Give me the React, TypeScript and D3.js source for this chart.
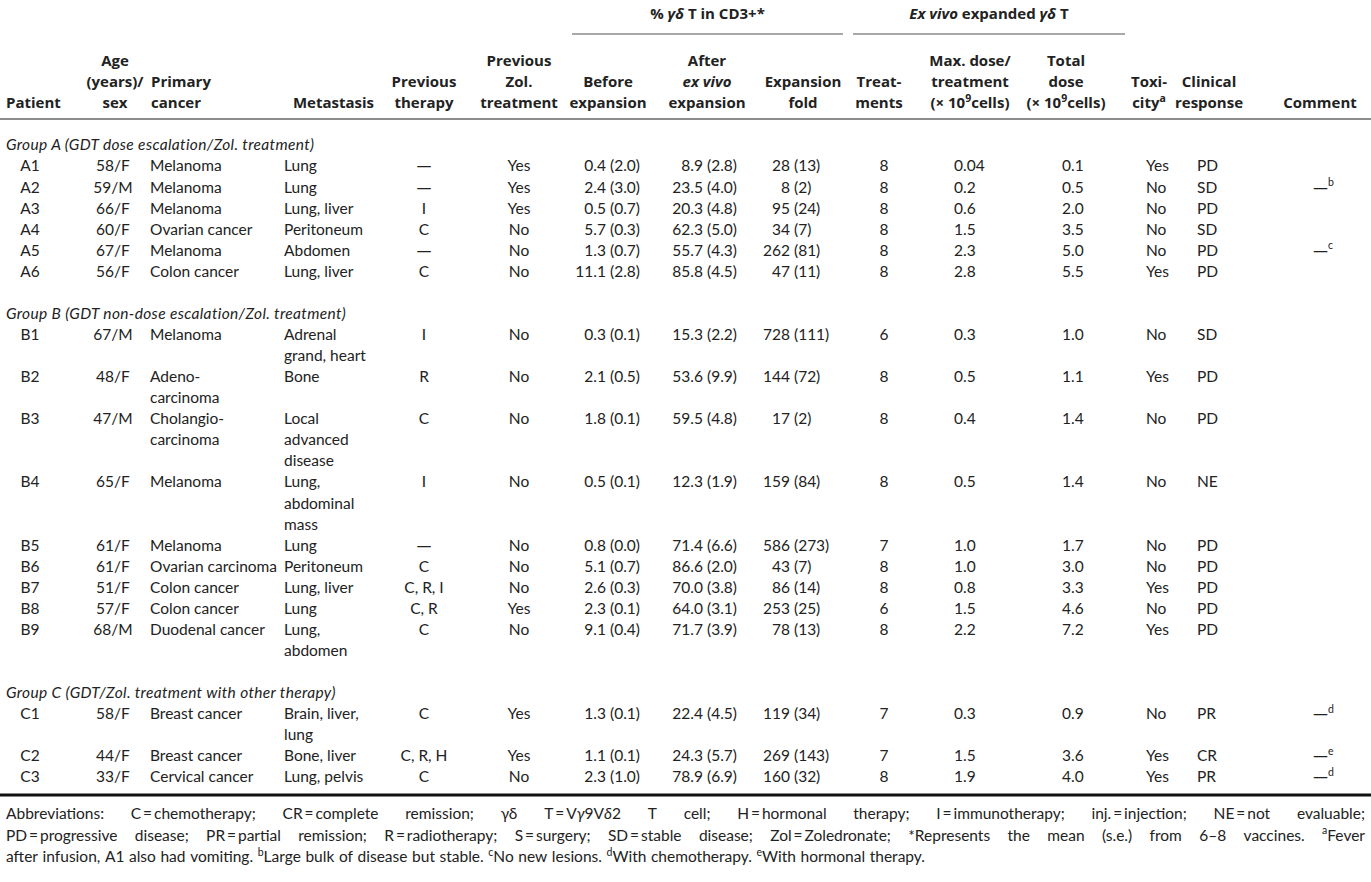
import { useEffect, useRef } from 'react'
import * as d3 from 'd3'

const W = 1371, H = 882
const FONT = 'Lato, "Noto Sans", sans-serif'
const HEAD_FONT = '"Open Sans", Lato, sans-serif'
const DASH_FONT = '"DejaVu Sans", sans-serif'
const INK = '#222'
const BL = 5.4 // offset from line centre to baseline

// ---- data ----
const groupLabels = [
  'Group A (GDT dose escalation/Zol. treatment)',
  'Group B (GDT non-dose escalation/Zol. treatment)',
  'Group C (GDT/Zol. treatment with other therapy)',
]
const groupSizes = [6, 9, 3]

const patients = ['A1', 'A2', 'A3', 'A4', 'A5', 'A6', 'B1', 'B2', 'B3', 'B4', 'B5', 'B6', 'B7', 'B8', 'B9', 'C1', 'C2', 'C3']
const ageSex = ['58/F', '59/M', '66/F', '60/F', '67/F', '56/F', '67/M', '48/F', '47/M', '65/F', '61/F', '61/F', '51/F', '57/F', '68/M', '58/F', '44/F', '33/F']
const primaryCancer = ['Melanoma', 'Melanoma', 'Melanoma', 'Ovarian cancer', 'Melanoma', 'Colon cancer', 'Melanoma', 'Adeno-\ncarcinoma', 'Cholangio-\ncarcinoma', 'Melanoma', 'Melanoma', 'Ovarian carcinoma', 'Colon cancer', 'Colon cancer', 'Duodenal cancer', 'Breast cancer', 'Breast cancer', 'Cervical cancer']
const metastasis = ['Lung', 'Lung', 'Lung, liver', 'Peritoneum', 'Abdomen', 'Lung, liver', 'Adrenal\ngrand, heart', 'Bone', 'Local\nadvanced\ndisease', 'Lung,\nabdominal\nmass', 'Lung', 'Peritoneum', 'Lung, liver', 'Lung', 'Lung,\nabdomen', 'Brain, liver,\nlung', 'Bone, liver', 'Lung, pelvis']
const prevTherapy = ['—', '—', 'I', 'C', '—', 'C', 'I', 'R', 'C', 'I', '—', 'C', 'C, R, I', 'C, R', 'C', 'C', 'C, R, H', 'C']
const prevZol = ['Yes', 'Yes', 'Yes', 'No', 'No', 'No', 'No', 'No', 'No', 'No', 'No', 'No', 'No', 'Yes', 'No', 'Yes', 'Yes', 'No']
const beforeMean = [0.4, 2.4, 0.5, 5.7, 1.3, 11.1, 0.3, 2.1, 1.8, 0.5, 0.8, 5.1, 2.6, 2.3, 9.1, 1.3, 1.1, 2.3]
const beforeSe = [2.0, 3.0, 0.7, 0.3, 0.7, 2.8, 0.1, 0.5, 0.1, 0.1, 0.0, 0.7, 0.3, 0.1, 0.4, 0.1, 0.1, 1.0]
const afterMean = [8.9, 23.5, 20.3, 62.3, 55.7, 85.8, 15.3, 53.6, 59.5, 12.3, 71.4, 86.6, 70.0, 64.0, 71.7, 22.4, 24.3, 78.9]
const afterSe = [2.8, 4.0, 4.8, 5.0, 4.3, 4.5, 2.2, 9.9, 4.8, 1.9, 6.6, 2.0, 3.8, 3.1, 3.9, 4.5, 5.7, 6.9]
const foldMean = [28, 8, 95, 34, 262, 47, 728, 144, 17, 159, 586, 43, 86, 253, 78, 119, 269, 160]
const foldSe = [13, 2, 24, 7, 81, 11, 111, 72, 2, 84, 273, 7, 14, 25, 13, 34, 143, 32]
const treatments = [8, 8, 8, 8, 8, 8, 6, 8, 8, 8, 7, 8, 8, 6, 8, 7, 7, 8]
const maxDose = ['0.04', '0.2', '0.6', '1.5', '2.3', '2.8', '0.3', '0.5', '0.4', '0.5', '1.0', '1.0', '0.8', '1.5', '2.2', '0.3', '1.5', '1.9']
const totalDose = ['0.1', '0.5', '2.0', '3.5', '5.0', '5.5', '1.0', '1.1', '1.4', '1.4', '1.7', '3.0', '3.3', '4.6', '7.2', '0.9', '3.6', '4.0']
const toxicity = ['Yes', 'No', 'No', 'No', 'No', 'Yes', 'No', 'Yes', 'No', 'No', 'No', 'No', 'Yes', 'No', 'Yes', 'No', 'Yes', 'Yes']
const response = ['PD', 'SD', 'PD', 'SD', 'PD', 'PD', 'SD', 'PD', 'PD', 'NE', 'PD', 'PD', 'PD', 'PD', 'PD', 'PR', 'CR', 'PR']
const comment = ['', 'b', '', '', 'c', '', '', '', '', '', '', '', '', '', '', 'd', 'e', 'd']

type Part = { t: string; i?: boolean; b?: boolean; sup?: boolean; dash?: boolean }

const footLines: Part[][] = [
  [
    { t: 'Abbreviations: C\u2009=\u2009chemotherapy; CR\u2009=\u2009complete remission; ' },
    { t: 'γδ' },
    { t: ' T\u2009=\u2009V' }, { t: 'γ', i: true }, { t: '9V' }, { t: 'δ', i: true },
    { t: '2 T cell; H\u2009=\u2009hormonal therapy; I\u2009=\u2009immunotherapy; inj.\u2009=\u2009injection; NE\u2009=\u2009not evaluable;' },
  ],
  [
    { t: 'PD\u2009=\u2009progressive disease; PR\u2009=\u2009partial remission; R\u2009=\u2009radiotherapy; S\u2009=\u2009surgery; SD\u2009=\u2009stable disease; Zol\u2009=\u2009Zoledronate; *Represents the mean (s.e.) from 6–8 vaccines. ' },
    { t: 'a', sup: true }, { t: 'Fever' },
  ],
  [
    { t: 'after infusion, A1 also had vomiting. ' }, { t: 'b', sup: true },
    { t: 'Large bulk of disease but stable. ' }, { t: 'c', sup: true },
    { t: 'No new lesions. ' }, { t: 'd', sup: true },
    { t: 'With chemotherapy. ' }, { t: 'e', sup: true },
    { t: 'With hormonal therapy.' },
  ],
]

const x10 = (): Part[] => [{ t: '(\u00d7 10' }, { t: '9', sup: true }, { t: 'cells)' }]

// header cells: [line0, line1, line2] from the top
const headers: { x: number; anchor: string; lines: (Part[] | null)[] }[] = [
  { x: 6, anchor: 'start', lines: [null, null, [{ t: 'Patient' }]] },
  { x: 115, anchor: 'middle', lines: [[{ t: 'Age' }], [{ t: '(years)/' }], [{ t: 'sex' }]] },
  { x: 151, anchor: 'start', lines: [null, [{ t: 'Primary' }], [{ t: 'cancer' }]] },
  { x: 374, anchor: 'end', lines: [null, null, [{ t: 'Metastasis' }]] },
  { x: 424, anchor: 'middle', lines: [null, [{ t: 'Previous' }], [{ t: 'therapy' }]] },
  { x: 519, anchor: 'middle', lines: [[{ t: 'Previous' }], [{ t: 'Zol.' }], [{ t: 'treatment' }]] },
  { x: 608, anchor: 'middle', lines: [null, [{ t: 'Before' }], [{ t: 'expansion' }]] },
  { x: 707, anchor: 'middle', lines: [[{ t: 'After' }], [{ t: 'ex vivo', i: true }], [{ t: 'expansion' }]] },
  { x: 803, anchor: 'middle', lines: [null, [{ t: 'Expansion' }], [{ t: 'fold' }]] },
  { x: 879, anchor: 'middle', lines: [null, [{ t: 'Treat-' }], [{ t: 'ments' }]] },
  { x: 970, anchor: 'middle', lines: [[{ t: 'Max. dose/' }], [{ t: 'treatment' }], x10()] },
  { x: 1066, anchor: 'middle', lines: [[{ t: 'Total' }], [{ t: 'dose' }], x10()] },
  { x: 1149, anchor: 'middle', lines: [null, [{ t: 'Toxi-' }], [{ t: 'city' }, { t: 'a', sup: true }]] },
  { x: 1209, anchor: 'middle', lines: [null, [{ t: 'Clinical' }], [{ t: 'response' }]] },
  { x: 1320, anchor: 'middle', lines: [null, null, [{ t: 'Comment' }]] },
]

const spanners = [
  { parts: [{ t: '% ' }, { t: 'γδ', i: true }, { t: ' T in CD3+*' }] as Part[], x0: 572, x1: 843 },
  { parts: [{ t: 'Ex vivo', i: true }, { t: ' expanded ' }, { t: 'γδ', i: true }, { t: ' T' }] as Part[], x0: 853, x1: 1125 },
]

function rich(sel: any, parts: Part[], supSize = 10.5) {
  let up = false
  parts.forEach(p => {
    const ts = sel.append('tspan').text(p.t)
    if (p.i) ts.attr('font-style', 'italic')
    if (p.b) ts.attr('font-weight', 'bold')
    if (p.dash) ts.attr('font-family', DASH_FONT).attr('font-size', 15)
    if (p.sup) {
      ts.attr('font-size', supSize)
      if (!up) ts.attr('dy', -6.5)
      up = true
    } else if (up) {
      ts.attr('dy', 6.5)
      up = false
    }
  })
}

export default function App() {
  const ref = useRef<SVGSVGElement>(null)

  useEffect(() => {
    document.body.style.margin = '0'
    const svg = d3.select(ref.current)
    svg.selectAll('*').remove()
    const g = svg.append('g').attr('font-family', FONT).attr('font-size', 15.5).attr('fill', INK)

    // ---- header ----
    const head = g.append('g').attr('font-family', HEAD_FONT).attr('font-size', 15).attr('font-weight', 'bold')
    const headY = d3.scaleLinear().domain([0, 2]).range([61, 103])
    spanners.forEach(s => {
      const t = head.append('text').attr('x', (s.x0 + s.x1) / 2).attr('y', 14 + BL)
        .attr('text-anchor', 'middle')
      rich(t, s.parts)
      g.append('line').attr('x1', s.x0).attr('x2', s.x1).attr('y1', 34).attr('y2', 34)
        .attr('stroke', '#8c8c8c').attr('stroke-width', 1.5)
    })
    headers.forEach(h => {
      h.lines.forEach((ln, i) => {
        if (!ln) return
        const t = head.append('text').attr('x', h.x).attr('y', headY(i) + BL)
          .attr('text-anchor', h.anchor)
        rich(t, ln)
      })
    })
    g.append('line').attr('x1', 0).attr('x2', W).attr('y1', 119).attr('y2', 119)
      .attr('stroke', '#8c8c8c').attr('stroke-width', 2)

    // ---- body rows ----
    const nLines = patients.map((_, i) =>
      Math.max(primaryCancer[i].split('\n').length, metastasis[i].split('\n').length))
    const rowLine: number[] = []
    const groupLine: number[] = []
    let li = 0, r = 0
    groupSizes.forEach(n => {
      groupLine.push(li)
      li += 1
      for (let k = 0; k < n; k++, r++) {
        rowLine.push(li)
        li += nLines[r]
      }
      li += 1
    })
    const y = d3.scaleLinear().domain([0, 30]).range([145, 777])

    groupLabels.forEach((lab, gi) => {
      g.append('text').attr('x', 6).attr('y', y(groupLine[gi]) + BL)
        .attr('font-style', 'italic').attr('letter-spacing', 0.35).text(lab)
    })

    const cell = (x: number, line: number, txt: string, anchor = 'start') => {
      txt.split('\n').forEach((s, k) => {
        const t = g.append('text').attr('x', x).attr('y', y(line + k) + BL)
          .attr('text-anchor', anchor).text(s)
        if (s === '—') t.attr('font-family', DASH_FONT).attr('font-size', 15)
      })
    }
    const split = (x: number, line: number, a: string, b: string) => {
      cell(x, line, a, 'end')
      cell(x + 4, line, b, 'start')
    }
    const dec = (x: number, line: number, v: string) => {
      const [a, b] = v.split('.')
      cell(x, line, a, 'end')
      cell(x, line, '.' + b, 'start')
    }
    const f1 = d3.format('.1f')

    patients.forEach((p, i) => {
      const L = rowLine[i]
      cell(30, L, p, 'middle')
      cell(113, L, ageSex[i], 'middle')
      cell(150, L, primaryCancer[i])
      cell(284, L, metastasis[i])
      cell(424, L, prevTherapy[i], 'middle')
      cell(519, L, prevZol[i], 'middle')
      split(606, L, f1(beforeMean[i]), `(${f1(beforeSe[i])})`)
      split(703, L, f1(afterMean[i]), `(${f1(afterSe[i])})`)
      split(790, L, String(foldMean[i]), `(${foldSe[i]})`)
      cell(884, L, String(treatments[i]), 'middle')
      dec(963, L, maxDose[i])
      dec(1071, L, totalDose[i])
      cell(1146, L, toxicity[i])
      cell(1197, L, response[i])
      if (comment[i]) {
        const t = g.append('text').attr('x', 1313).attr('y', y(L) + BL)
        rich(t, [{ t: '—', dash: true }, { t: comment[i], sup: true }])
      }
    })

    g.append('line').attr('x1', 0).attr('x2', W).attr('y1', 795).attr('y2', 795)
      .attr('stroke', '#111').attr('stroke-width', 3)

    // ---- footnotes (justified) ----
    const footY = d3.scaleLinear().domain([0, 2]).range([814, 857])
    const fx0 = 6, fx1 = 1365
    footLines.forEach((parts, li2) => {
      const words: Part[][] = [[]]
      parts.forEach(p => {
        p.t.split(' ').forEach((w, k) => {
          if (k > 0) words.push([])
          if (w) words[words.length - 1].push({ ...p, t: w })
        })
      })
      const ws = words.filter(w => w.length)
      const nodes = ws.map(w => {
        const t = g.append('text').attr('y', footY(li2) + BL)
        rich(t, w)
        return t
      })
      const widths = nodes.map(n => (n.node() as SVGTextElement).getComputedTextLength())
      const total = d3.sum(widths)
      const last = li2 === footLines.length - 1
      const gap = last ? 4.6 : (fx1 - fx0 - total) / (ws.length - 1)
      let cx = fx0
      nodes.forEach((n, k) => {
        n.attr('x', cx)
        cx += widths[k] + gap
      })
    })
  }, [])

  return (
    <svg ref={ref} width={W} height={H} style={{ display: 'block', background: '#fff' }} />
  )
}
